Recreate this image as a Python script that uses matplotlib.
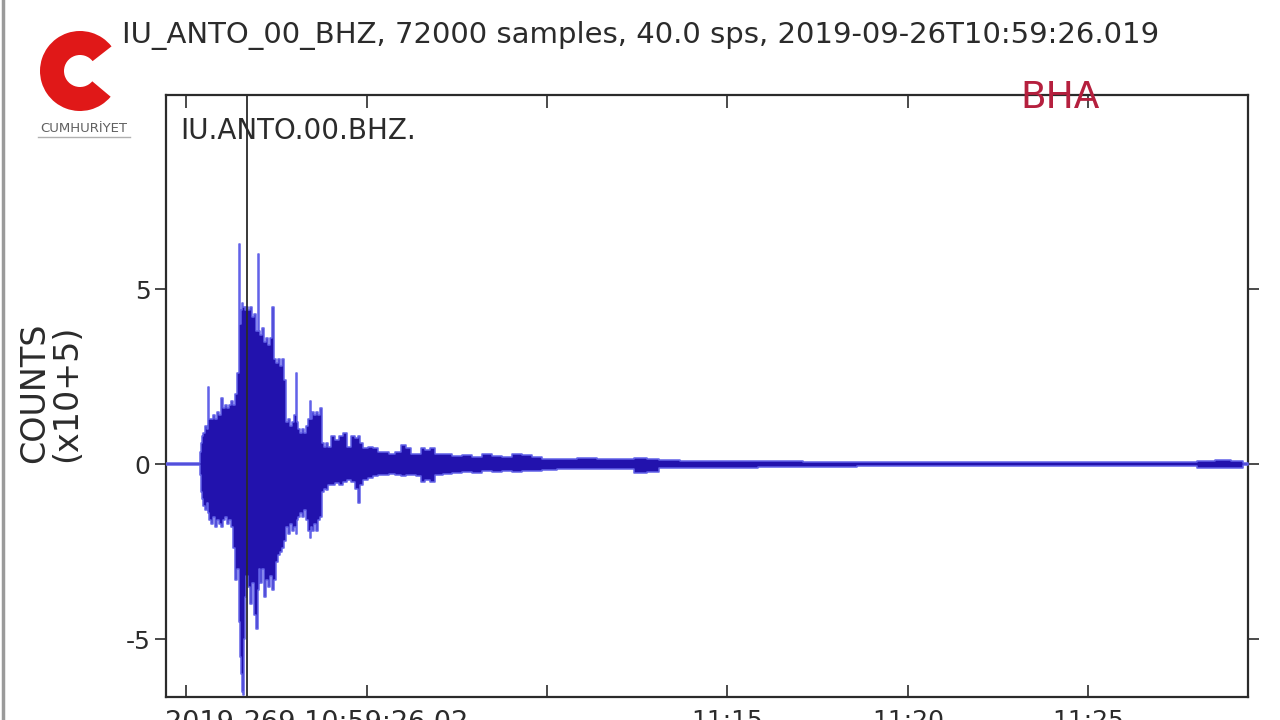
import matplotlib
matplotlib.use("Agg")
import matplotlib.pyplot as plt
from matplotlib.lines import Line2D
from matplotlib.patches import Wedge
from matplotlib.transforms import IdentityTransform
import numpy as np

# ---- data (amplitudes in units of 1e5 counts, time in s after 10:59:26.019) ----
t_sec = [0, 54.9, 56.6, 58.3, 60.0, 63.2, 66.6, 69.9, 71.5, 73.2, 76.5, 79.9, 83.2,
         86.5, 89.9, 93.2, 96.5, 99.8, 103.2, 106.5, 109.8, 113.1, 116.5, 119.8,
         121.5, 123.1, 124.8, 126.5, 128.1, 129.8, 131.4, 134.8, 138.1, 141.4,
         144.8, 148.1, 151.4, 153.1, 154.8, 158.1, 161.4, 164.7, 168.1, 171.4,
         174.7, 178.0, 181.4, 184.7, 188.0, 191.3, 194.7, 198.0, 201.3, 204.7,
         208.0, 211.3, 214.6, 216.3, 218.0, 221.3, 224.6, 228.0, 231.3, 234.6,
         237.9, 239.6, 241.3, 244.6, 247.9, 251.2, 254.6, 257.9, 261.2, 264.6,
         267.9, 271.2, 277.9, 284.5, 291.2, 297.8, 304.5, 311.2, 317.8, 321.1,
         324.5, 331.1, 339.4, 347.8, 356.1, 366.1, 376.0, 386.0, 394.3, 402.7,
         411.0, 421.0, 427.6, 434.3, 442.6, 452.6, 467.6, 484.2, 500.8, 517.5,
         534.1, 550.7, 567.4, 584.0, 600.7, 617.3, 634, 667, 700, 734, 767, 790,
         810, 830, 880, 950, 1020, 1100, 1200, 1300, 1400, 1500, 1600, 1700,
         1730, 1760, 1785, 1800]
env_hi = [0.03, 0.03, 0.35, 0.6, 0.8, 0.9, 1.1, 1.0, 2.2, 1.3, 1.3, 1.4, 1.3,
          1.5, 1.4, 1.9, 1.6, 1.7, 1.6, 1.7, 1.8, 1.7, 2.0, 2.6,
          6.3, 4.0, 4.4, 4.6, 4.5, 4.5, 4.4, 4.5, 4.4, 4.5,
          4.2, 4.3, 3.8, 6.0, 3.8, 3.7, 3.9, 3.5, 3.6, 3.4,
          3.6, 4.5, 3.0, 2.9, 3.0, 2.8, 3.0, 2.4, 1.2, 1.3,
          1.1, 1.2, 1.4, 2.6, 1.2, 1.0, 0.9, 1.0, 0.9, 1.1,
          1.3, 1.8, 1.3, 1.5, 1.4, 1.5, 1.4, 1.6, 0.6, 0.5,
          0.6, 0.5, 0.8, 0.7, 0.8, 0.9, 0.5, 0.8, 0.75, 0.8,
          0.6, 0.45, 0.5, 0.45, 0.35, 0.35, 0.3, 0.35, 0.55, 0.45,
          0.3, 0.3, 0.45, 0.4, 0.45, 0.3, 0.28, 0.22, 0.25, 0.2,
          0.3, 0.22, 0.2, 0.3, 0.25, 0.2, 0.15, 0.15, 0.16, 0.14, 0.15, 0.17,
          0.15, 0.12, 0.1, 0.09, 0.08, 0.06, 0.06, 0.05, 0.05, 0.05, 0.05, 0.06,
          0.1, 0.12, 0.08, 0.04]
env_lo = [-0.03, -0.03, -0.3, -0.8, -1.0, -1.2, -1.3, -1.1, -1.4, -1.6, -1.7, -1.5, -1.8,
          -1.6, -1.7, -1.8, -1.6, -1.5, -1.7, -1.6, -1.8, -2.4, -3.3, -3.0,
          -4.5, -5.5, -6.0, -6.5, -6.6, -5.0, -3.8, -3.2, -3.5, -4.0,
          -3.4, -4.3, -4.7, -3.6, -3.0, -3.4, -3.0, -3.8, -3.3, -3.5,
          -3.2, -3.6, -3.3, -2.8, -2.6, -2.5, -2.4, -2.2, -1.8, -2.0,
          -1.7, -1.9, -1.8, -2.0, -1.6, -1.5, -1.4, -1.5, -1.3, -1.6,
          -1.9, -2.1, -1.8, -1.9, -1.7, -1.9, -1.6, -1.5, -0.8, -0.7,
          -0.75, -0.6, -0.6, -0.55, -0.6, -0.5, -0.45, -0.5, -0.7, -1.1,
          -0.6, -0.45, -0.4, -0.35, -0.3, -0.3, -0.28, -0.3, -0.35, -0.3,
          -0.3, -0.35, -0.5, -0.45, -0.5, -0.3, -0.28, -0.25, -0.22, -0.25,
          -0.2, -0.22, -0.2, -0.22, -0.2, -0.2, -0.17, -0.15, -0.15, -0.14, -0.15, -0.25,
          -0.22, -0.12, -0.1, -0.1, -0.09, -0.08, -0.07, -0.06, -0.06, -0.06, -0.05, -0.06,
          -0.1, -0.12, -0.1, -0.04]

pick_time = 134.8
tick_times = [33.98, 333.98, 633.98, 933.98, 1233.98, 1533.98]
tick_labels = ["", "", "", "11:15", "11:20", "11:25"]
y_ticks = [-5, 0, 5]
y_tick_labels = ["-5", "0", "5"]
title = "IU_ANTO_00_BHZ, 72000 samples, 40.0 sps, 2019-09-26T10:59:26.019"
station = "IU.ANTO.00.BHZ."
start_label = "2019-269 10:59:26.02"

TXT = "#2b2b2b"
fig = plt.figure(figsize=(12.8, 7.2), dpi=100)
fig.patch.set_facecolor("white")
ax = fig.add_axes([166 / 1280, 1 - 697 / 720, (1248 - 166) / 1280, (697 - 95) / 720])

t = np.array(t_sec)
hi = np.array(env_hi)
lo = np.array(env_lo)
ax.axhline(0, color="#1a1470", lw=1.3, zorder=2)
ax.fill_between(t, lo, hi, step="mid", facecolor="#2212ad", edgecolor="#6262e8",
                lw=1.1, zorder=3)
ax.axvline(pick_time, color="#2a2a2a", lw=1.3, zorder=4)

ax.set_xlim(0, 1800)
ax.set_ylim(-6.657, 10.543)

ax.set_xticks(tick_times)
ax.set_xticklabels(tick_labels)
ax.set_yticks(y_ticks)
ax.set_yticklabels(y_tick_labels)
ax.tick_params(axis="x", direction="in", length=9, width=1.2, top=True, bottom=True,
               labelsize=18, labelcolor=TXT, colors="#2b2b2b", pad=9)
ax.tick_params(axis="y", direction="out", length=8, width=1.2, left=True, right=True,
               labelsize=18, labelcolor=TXT, colors="#2b2b2b", pad=3)
for s in ax.spines.values():
    s.set_linewidth(1.6)
    s.set_color("#2b2b2b")

ax.text(-1 / 1082, -0.022, start_label, transform=ax.transAxes, ha="left", va="top",
        fontsize=19.5, color=TXT)

ax.text(14 / 1082, 0.94, station, transform=ax.transAxes, ha="left", va="center",
        fontsize=20, color=TXT)

fig.text(641 / 1280, 1 - 35 / 720, title, ha="center", va="center", fontsize=21, color=TXT)

fig.text(35 / 1280, 1 - 393 / 720, "COUNTS", rotation=90, ha="center", va="center",
         fontsize=24, color=TXT)
fig.text(67 / 1280, 1 - 393 / 720, "(x10+5)", rotation=90, ha="center", va="center",
         fontsize=24, color=TXT)

# watermarks
fig.text(1060 / 1280, 1 - 98 / 720, "BHA", ha="center", va="center", fontsize=27,
         color="#b5203e")
# red "C" logo drawn as a thick arc (pixel coordinates, origin bottom-left)
fig.add_artist(Wedge((80, 720 - 71), 40, 38, 320, width=24, transform=IdentityTransform(),
                     facecolor="#e01818", edgecolor="none"))
fig.text(84 / 1280, 1 - 128 / 720, "CUMHURİYET", ha="center", va="center", fontsize=9.5,
         color="#606060")
fig.add_artist(Line2D([38 / 1280, 130 / 1280], [1 - 137 / 720, 1 - 137 / 720],
                      transform=fig.transFigure, color="#b0b0b0", lw=1))
fig.add_artist(Line2D([3 / 1280, 3 / 1280], [0, 1], transform=fig.transFigure,
                      color="#9a9a9a", lw=2.5))

fig.savefig("out.png", dpi=100)
